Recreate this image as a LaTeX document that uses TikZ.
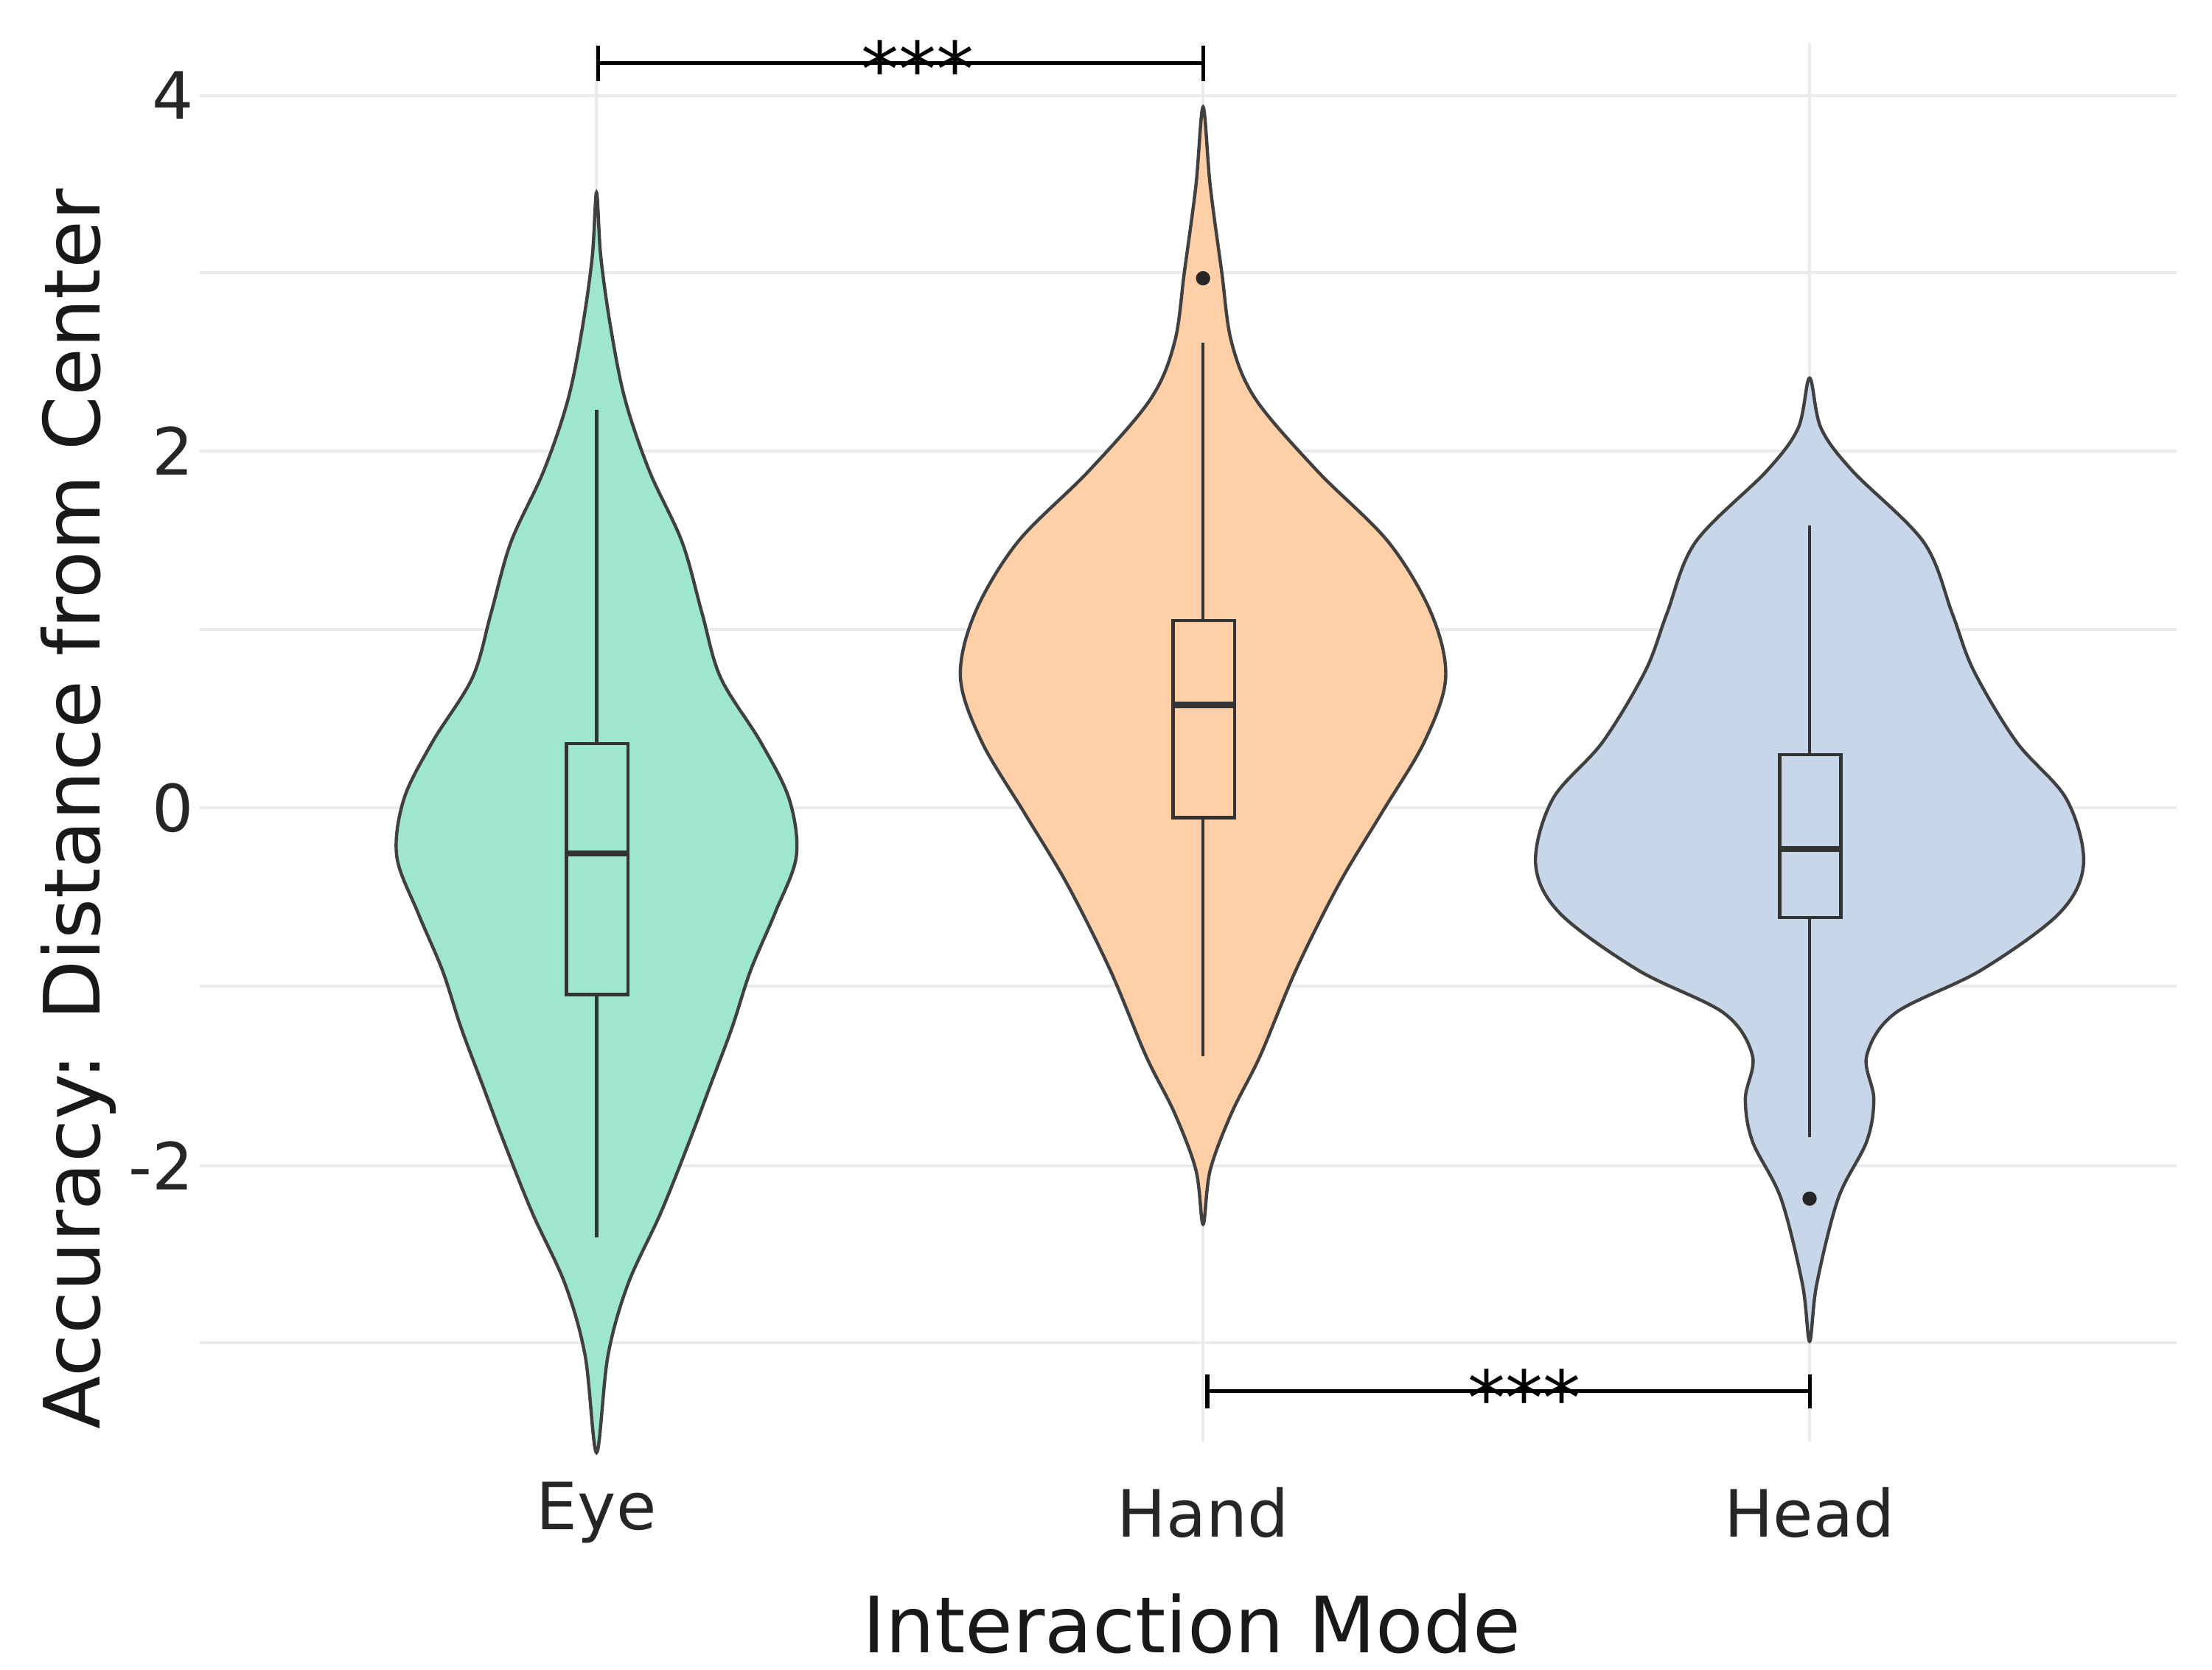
\documentclass[tikz,border=0pt]{standalone}
\usepackage{fontspec}
\setmainfont{DejaVu Sans}
\begin{document}
\begin{tikzpicture}[x=0.02cm,y=-0.02cm,
  grid/.style={draw=black!8,line width=1.2pt},
  vio/.style={draw=black!75,line width=1.3pt},
  bx/.style={draw=black!80,line width=1.3pt},
  tick/.style={font=\fontsize{26}{28}\selectfont,text=black!85},
  sig/.style={draw=black,line width=1.5pt}]
\useasboundingbox (0,0) rectangle (1550,1170);
\foreach \y in {67,191,316,441,566,691,817,941} \draw[grid] (140,\y) -- (1525,\y);
\foreach \x in {418,843,1268} \draw[grid] (\x,30) -- (\x,1010);
% violins
\draw[vio,fill={rgb,255:red,158;green,230;blue,207}] plot[smooth cycle,tension=0.55] coordinates {(418,135) (421,180) (428,230) (438,280) (455,330) (478,380) (492,430) (505,475) (533,520) (553,560) (558,600) (543,640) (526,680) (513,720) (498,760) (483,800) (463,850) (440,900) (426,950) (418,1018) (410,950) (396,900) (373,850) (353,800) (338,760) (323,720) (310,680) (293,640) (278,600) (283,560) (303,520) (331,475) (344,430) (358,380) (381,330) (398,280) (408,230) (415,180)};
\draw[vio,fill={rgb,255:red,255;green,207;blue,168}] plot[smooth cycle,tension=0.55] coordinates {(843,75) (848,130) (856,190) (863,240) (880,280) (923,330) (973,380) (1003,430) (1013,475) (998,520) (968,570) (938,620) (908,680) (883,740) (863,780) (848,820) (843,858) (838,820) (823,780) (803,740) (778,680) (748,620) (718,570) (688,520) (673,475) (683,430) (713,380) (763,330) (806,280) (823,240) (830,190) (838,130)};
\draw[vio,fill={rgb,255:red,200;green,214;blue,234}] plot[smooth cycle,tension=0.55] coordinates {(1268,265) (1276,300) (1298,330) (1348,380) (1368,430) (1383,470) (1413,520) (1448,560) (1460,605) (1443,640) (1388,680) (1328,710) (1308,740) (1313,770) (1308,800) (1288,840) (1273,900) (1268,940) (1263,900) (1248,840) (1228,800) (1223,770) (1228,740) (1208,710) (1148,680) (1093,640) (1076,605) (1088,560) (1123,520) (1153,470) (1168,430) (1188,380) (1238,330) (1260,300)};
% boxes
\draw[bx] (418,287) -- (418,521) (418,697) -- (418,867);
\draw[bx] (397,521) rectangle (440,697);
\draw[bx,line width=2.5pt] (397,598) -- (440,598);
\draw[bx] (843,240) -- (843,435) (843,573) -- (843,740);
\draw[bx] (822,435) rectangle (865,573);
\draw[bx,line width=2.5pt] (822,494) -- (865,494);
\fill[black!85] (843,195) circle (5);
\draw[bx] (1268,368) -- (1268,529) (1268,643) -- (1268,797);
\draw[bx] (1247,529) rectangle (1290,643);
\draw[bx,line width=2.5pt] (1247,595) -- (1290,595);
\fill[black!85] (1268,840) circle (5);
% significance
\draw[sig] (419,32) -- (419,57) (419,44) -- (843,44) (843,32) -- (843,57);
\node[font=\fontsize{30}{30}\selectfont] at (643,48) {***};
\draw[sig] (846,963) -- (846,987) (846,975) -- (1268,975) (1268,963) -- (1268,987);
\node[font=\fontsize{30}{30}\selectfont] at (1068,979) {***};
% ticks
\node[tick,anchor=east] at (142,67) {4};
\node[tick,anchor=east] at (142,316) {2};
\node[tick,anchor=east] at (142,566) {0};
\node[tick,anchor=east] at (142,817) {-2};
\node[tick] at (418,1060) {Eye};
\node[tick] at (843,1060) {Hand};
\node[tick] at (1268,1060) {Head};
\node[font=\fontsize{31}{34}\selectfont,text=black!90] at (835,1138) {Interaction Mode};
\node[font=\fontsize{31}{34}\selectfont,text=black!90,rotate=90] at (55,567) {Accuracy: Distance from Center};
\end{tikzpicture}
\end{document}
